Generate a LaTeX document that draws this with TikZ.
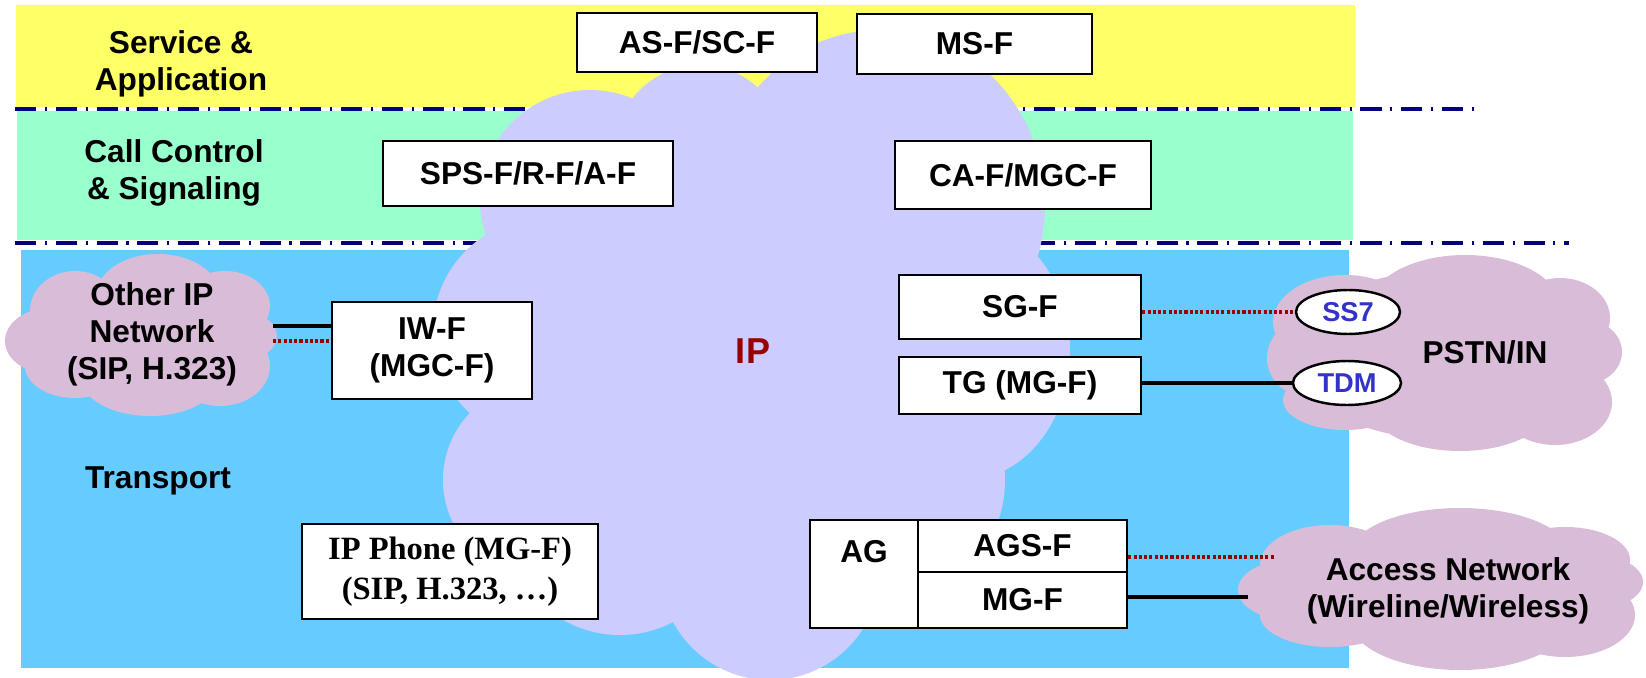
\documentclass[tikz,border=0pt]{standalone}
\usepackage{fontspec}
\setmainfont{Liberation Sans}
\newfontfamily\phonefont{Liberation Serif}
\usetikzlibrary{shapes.geometric}

\definecolor{svcyellow}{HTML}{FFFF66}
\definecolor{ctlgreen}{HTML}{99FFCC}
\definecolor{trpblue}{HTML}{66CCFF}
\definecolor{ipcloud}{HTML}{CCCCFF}
\definecolor{netpink}{HTML}{D9BCD8}
\definecolor{layernavy}{HTML}{000080}
\definecolor{ipred}{HTML}{990000}
\definecolor{sigred}{HTML}{990000}
\definecolor{sigblue}{HTML}{3333CC}

\tikzset{
  fbox/.style={draw, line width=1.4pt, fill=white, inner sep=0pt, align=center,
    font=\bfseries\fontsize{18}{21}\selectfont},
  layertext/.style={align=center, font=\bfseries\fontsize{18}{21}\selectfont},
  sigoval/.style={ellipse, draw, line width=1.4pt, fill=white, inner sep=0pt,
    minimum height=8.8mm, text=sigblue, font=\bfseries\fontsize{15.5}{18}\selectfont},
  layerline/.style={draw=layernavy, line width=1.9pt,
    dash pattern=on 12pt off 5pt on 1.2pt off 5pt},
  sigline/.style={draw=sigred, line width=2pt, dash pattern=on 1.8pt off 1.2pt},
  bearline/.style={draw=black, line width=2pt},
}

\begin{document}
\begin{tikzpicture}[x=0.2mm, y=-0.2mm]
\useasboundingbox (0,0) rectangle (1646,678);
% layers
\fill[svcyellow] (16,5) rectangle (1355,107);
\fill[ctlgreen] (17,111) rectangle (1353,240);
\fill[trpblue] (21,250) rectangle (1349,668);
\draw[layerline] (15,109) -- (1476,109);
\draw[layerline] (15,243) -- (1569,243);

% IP cloud
\foreach \cx/\cy/\rx/\ry in {760/360/250/230, 590/200/110/110, 700/150/85/85,
    880/205/165/175, 965/350/105/130, 880/480/125/125, 770/570/110/110,
    620/520/115/115, 540/480/97/97, 545/330/112/112}
  \fill[ipcloud] (\cx,\cy) ellipse [x radius=\rx*0.2mm, y radius=\ry*0.2mm];

% other networks
\foreach \cx/\cy/\rx/\ry in {145/336/100/50, 158/296/62/42, 75/311/45/40,
    50/341/45/33, 225/306/45/35, 240/336/37/25, 220/366/50/40,
    150/376/70/40, 75/366/50/32,
    1450/355/160/85, 1465/307/95/52, 1345/322/72/47, 1560/318/50/40,
    1582/352/40/33, 1555/402/57/43, 1460/408/88/43, 1310/358/43/40,
    1345/400/62/30,
    1440/588/170/62, 1330/565/70/40, 1460/555/110/47, 1565/560/65/33,
    1590/582/53/28, 1565/615/70/42, 1460/620/110/50, 1290/590/52/30,
    1330/615/70/32}
  \fill[netpink] (\cx,\cy) ellipse [x radius=\rx*0.2mm, y radius=\ry*0.2mm];

\node[layertext] (svc) at (181,64) {Service \&\\Application};
\node[layertext] (ctl) at (174,173) {Call Control\\\& Signaling};
\node[layertext] (trp) at (158,481) {Transport};
\node[layertext] (oip) at (152,334) {Other IP\\Network\\(SIP, H.323)};
\node[layertext] (pstn) at (1485,352) {PSTN/IN};
\node[layertext] (acc) at (1448,591) {Access Network\\(Wireline/Wireless)};
\node[font=\bfseries\fontsize{20.5}{24}\selectfont, text=ipred] (ip) at (753,351) {IP};

\node[fbox, minimum width=48mm, minimum height=11.8mm] (asf) at (697,42.5) {AS-F/SC-F};
\node[fbox, minimum width=47mm, minimum height=12mm] (msf) at (974.5,44) {MS-F};
\node[fbox, minimum width=58mm, minimum height=13mm] (spsf) at (528,173.5) {SPS-F/R-F/A-F};
\node[fbox, minimum width=51.2mm, minimum height=13.6mm] (caf) at (1023,175) {CA-F/MGC-F};
\node[fbox, minimum width=40mm, minimum height=19.4mm] (iwf) at (432,350.5) {IW-F\\(MGC-F)};
\node[fbox, minimum width=59.2mm, minimum height=19mm,
  font=\phonefont\bfseries\fontsize{18.5}{22.5}\selectfont] (phone) at (450,571.5)
  {IP Phone (MG-F)\\(SIP, H.323, …)};
\node[fbox, minimum width=48.4mm, minimum height=12.8mm] (sgf) at (1020,307) {SG-F};
\node[fbox, minimum width=48.4mm, minimum height=11.4mm] (tg) at (1020,385.5) {TG (MG-F)};
\node[fbox, minimum width=21.6mm, minimum height=21.6mm,
  text height=4.4mm, text depth=9.2mm] (ag) at (864,574) {AG};
\node[fbox, minimum width=41.8mm, minimum height=10.4mm] (agsf) at (1022.5,546) {AGS-F};
\node[fbox, minimum width=41.8mm, minimum height=11.2mm] (mgf) at (1022.5,600) {MG-F};

\node[sigoval, minimum width=20.8mm] (ss7) at (1348,312) {SS7};
\node[sigoval, minimum width=21.6mm] (tdm) at (1347,383) {TDM};

% links
\coordinate (oipsolid) at (273,326);
\coordinate (oipdot) at (273,341);
\coordinate (accdot) at (1275,557);
\coordinate (accsolid) at (1248,597);
\draw[bearline] (oipsolid) -- (oipsolid -| iwf.west);
\draw[sigline] (oipdot) -- (oipdot -| iwf.west);
\draw[sigline] (ss7.west -| sgf.east) -- (ss7.west);
\draw[bearline] (tdm.west -| tg.east) -- (tdm.west);
\draw[sigline] (accdot -| agsf.east) -- (accdot);
\draw[bearline] (accsolid -| mgf.east) -- (accsolid);
\end{tikzpicture}
\end{document}
